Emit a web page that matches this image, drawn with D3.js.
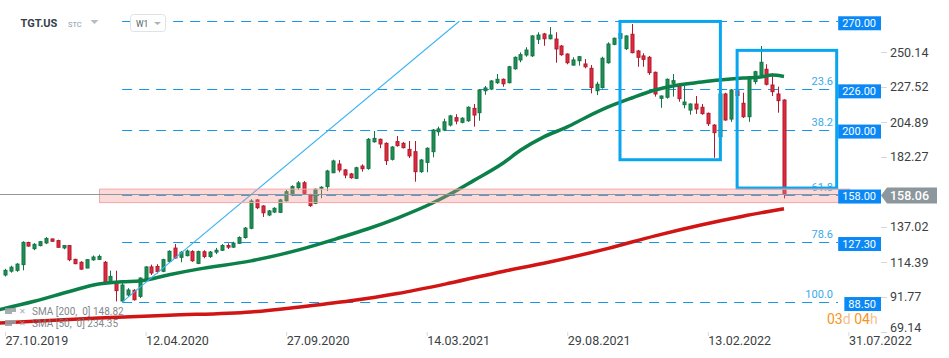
<!DOCTYPE html>
<html><head><meta charset="utf-8">
<script src="https://cdn.jsdelivr.net/npm/d3@7"></script>
<style>
html,body{margin:0;padding:0;background:#fff;}
svg{display:block;font-family:Roboto,"Noto Sans",sans-serif;}
</style></head>
<body>
<svg id="c" width="949" height="358"></svg>
<script>
// ---------------- DATA ----------------
const firstWeek = "2019-10-27";           // weekly candles, one per week from this date
const opens  = [106.0,108.5,109.0,112.7,127.0,123.0,125.0,126.7,129.3,128.2,123.5,125.0,116.1,114.2,110.5,115.8,116.1,114.2,101.5,100.8,89.2,93.1,96.1,92.2,103.6,111.2,111.5,108.4,114.8,123.4,117.4,118.5,121.1,113.5,121.0,118.0,120.8,122.0,125.0,124.0,126.5,130.2,136.2,154.5,150.6,144.8,146.7,146.5,154.0,157.7,162.4,165.6,157.7,152.3,162.1,163.1,172.1,177.7,173.9,171.3,168.5,176.4,174.9,192.1,193.7,191.1,180.8,192.2,191.1,187.2,185.7,172.8,178.8,185.7,198.6,199.7,202.95,207.7,204.7,205.7,213.7,210.9,225.1,226.2,230.3,232.5,230.3,239.3,245.0,248.2,247.7,258.4,261.8,258.7,258.5,254.0,248.8,241.7,244.5,242.4,239.6,225.1,227.1,243.2,255.1,259.0,252.3,261.6,250.8,247.6,246.7,237.0,220.2,220.9,229.9,228.3,216.1,212.6,216.5,214.4,210.5,202.9,195.4,223.0,206.8,225.0,217.0,208.3,231.0,235.3,239.0,228.8,223.0,219.1];
const highs  = [110.0,112.0,113.7,127.8,127.5,126.6,128.0,130.5,129.5,128.8,125.2,125.2,116.5,114.9,116.2,118.6,119.2,115.0,108.8,108.8,102.3,97.5,96.8,104.5,111.7,112.7,113.0,116.5,122.0,126.0,121.4,122.5,122.0,121.8,122.0,121.5,123.5,126.0,126.5,127.5,131.0,137.0,155.0,155.1,151.0,148.0,149.8,155.2,161.0,164.0,166.7,166.7,158.5,162.0,163.4,174.0,180.5,180.3,174.5,172.0,176.0,177.5,194.5,199.1,194.2,191.7,189.3,195.8,192.0,192.6,192.6,181.0,188.5,200.3,201.9,207.0,209.5,209.9,208.0,215.0,216.5,226.2,228.2,232.0,235.9,233.0,241.2,247.3,249.9,253.2,261.0,262.9,262.5,266.3,262.9,254.7,249.3,246.7,247.6,245.6,241.7,230.9,247.1,256.4,259.5,264.0,261.0,268.2,251.5,249.3,247.6,237.5,222.0,233.0,235.9,229.4,228.2,217.0,221.7,216.5,211.0,203.5,224.0,223.8,226.2,228.0,223.8,234.5,238.0,254.0,242.2,236.4,227.7,219.6];
const lows   = [105.0,107.5,108.0,109.0,124.3,122.0,124.5,126.0,127.5,123.8,122.6,114.9,113.0,109.3,110.4,115.2,115.8,100.8,100.8,88.9,88.5,92.0,89.5,91.1,103.0,106.0,107.0,107.8,113.8,116.5,114.2,118.0,114.5,113.0,116.8,117.0,119.5,121.5,122.8,123.5,126.0,129.5,135.5,148.6,143.5,144.0,146.0,146.0,153.5,157.0,160.9,158.0,150.1,151.8,155.6,160.3,171.8,172.4,168.5,168.2,168.0,172.8,174.0,191.5,188.0,177.1,180.0,189.0,187.8,181.6,166.3,172.0,172.4,182.1,196.0,199.0,202.0,203.4,204.0,205.0,201.9,205.7,222.5,225.5,229.5,227.7,229.8,238.7,243.5,247.1,246.9,255.3,254.2,258.3,243.2,247.7,242.2,241.3,241.3,239.6,223.4,222.3,226.5,242.6,254.5,257.0,251.4,249.3,240.6,240.6,235.3,221.3,214.1,220.0,221.3,218.0,213.7,209.6,210.1,209.6,202.3,181.8,195.0,205.7,205.0,220.0,207.5,205.0,229.3,234.8,228.5,221.7,210.9,155.5];
const closes = [109.0,111.0,113.0,127.1,124.7,125.8,127.5,129.6,127.8,123.9,125.0,115.9,113.3,109.8,115.9,117.6,118.0,101.5,105.1,95.9,99.5,96.3,90.0,104.0,111.2,107.3,108.3,115.9,121.3,117.0,120.7,121.5,115.2,121.1,118.0,120.8,122.0,125.0,124.0,126.5,130.2,136.3,153.8,149.5,146.2,147.4,149.1,154.5,159.8,163.1,165.5,158.8,150.8,161.4,162.7,173.2,179.7,173.9,170.6,168.9,175.3,174.7,193.7,194.3,190.7,179.9,188.7,189.6,188.3,183.0,172.8,180.3,187.9,199.7,200.4,205.0,208.8,205.5,207.3,214.4,209.4,225.6,226.9,231.4,232.5,229.6,240.6,246.7,248.4,251.4,260.5,261.1,258.7,261.1,252.1,248.4,243.2,245.0,247.1,240.6,227.1,229.3,246.1,255.3,259.0,262.0,260.5,249.7,246.7,245.4,236.8,223.0,221.7,232.5,231.6,220.0,217.8,216.5,213.3,210.3,203.8,198.0,223.0,206.2,225.6,222.0,208.3,233.8,237.4,243.5,229.3,224.5,218.7,158.06];

// SMA 50 (green)
const sma50Dates  = ["2019-10-20","2019-12-01","2020-01-12","2020-02-16","2020-03-15","2020-04-05","2020-05-10","2020-06-14","2020-08-16","2020-10-11","2020-11-29","2021-01-03","2021-02-07","2021-03-21","2021-04-11","2021-05-09","2021-06-13","2021-07-04","2021-08-01","2021-08-29","2021-09-19","2021-10-17","2021-11-14","2021-12-12","2022-01-02","2022-02-06","2022-02-27","2022-03-27","2022-04-17","2022-05-01","2022-05-15"];
const sma50Values = [83.6,89.0,95.3,100.2,101.6,102.1,106.2,109.8,115.1,122.1,129.9,135.9,142.8,152.5,158.3,167.0,178.2,186.6,195.3,201.7,207.5,214.6,220.4,225.6,228.2,230.7,232.0,233.3,234.0,235.2,234.35];
// SMA 200 (red)
const sma200Dates  = ["2019-10-20","2020-02-16","2020-05-10","2020-08-16","2020-10-11","2020-12-13","2021-02-07","2021-04-11","2021-06-13","2021-08-01","2021-10-17","2021-12-12","2022-02-06","2022-03-27","2022-05-15"];
const sma200Values = [75.0,78.2,80.0,82.1,85.2,89.3,94.0,100.8,108.3,113.6,123.2,131.3,138.5,144.0,148.82];

const priceTicks = [250.14,227.52,204.89,182.27,137.02,114.39,91.77,69.14];
const dateTicks  = ["2019-10-27","2020-04-12","2020-09-27","2021-03-14","2021-08-29","2022-02-13","2022-07-31"];

const levelPrices = [270, 226, 200, 158, 127.3, 88.5];
const levelLabels = ["270.00","226.00","200.00","158.00","127.30","88.50"];
const fibLabels   = ["", "23.6","38.2","61.8","78.6","100.0"];
const fibStart = "2020-03-15";
const lastPrice = 158.06;
const trendDates  = ["2020-03-15","2021-04-22"];
const trendPrices = [88.5, 270];
const zoneTop = 161.5, zoneBottom = 152.8;
const boxes = [
  {from:"2021-10-31", to:"2022-02-28", top:269.9, bottom:180.5},
  {from:"2022-03-20", to:"2022-07-17", top:251.2, bottom:162.2}
];
const legend = [
  {name:"SMA [200,  0]", value:"148.82"},
  {name:"SMA [50,  0]",  value:"234.35"}
];

// ---------------- SCALES ----------------
const parse = d3.utcParse("%Y-%m-%d");
const svg = d3.select("#c");
const plotRight = 881, plotBottom = 332;

const x = d3.scaleUtc().domain([parse("2019-10-27"), parse("2022-07-31")]).range([5, 848.4]);
const y = d3.scaleLinear().domain([69.14, 250.14]).range([332, 52]);

const candles = opens.map((o,i)=>({
  date: d3.utcDay.offset(parse(firstWeek), i*7),
  o, h:highs[i], l:lows[i], c:closes[i]
}));

const defs = svg.append("defs");
defs.append("clipPath").attr("id","plot").append("rect").attr("x",0).attr("y",0).attr("width",plotRight).attr("height",plotBottom);

const plot = svg.append("g").attr("clip-path","url(#plot)");

// level dashed lines
const blue = "#1798e6";
const lvlX0 = x(parse(fibStart)), lvlX1 = 838;
plot.selectAll("line.lvl").data(levelPrices).join("line")
  .attr("x1", lvlX0).attr("x2", lvlX1)
  .attr("y1", d=>Math.round(y(d))+0.5).attr("y2", d=>Math.round(y(d))+0.5)
  .attr("stroke", blue).attr("stroke-width",1.2).attr("stroke-dasharray","10,7");

// fib text labels
plot.selectAll("text.fib").data(levelPrices.map((p,i)=>({p, t:fibLabels[i]})).filter(d=>d.t)).join("text")
  .attr("x", 833).attr("y", d=>y(d.p)-4).attr("text-anchor","end")
  .attr("font-size",11).attr("fill","#3aa9ea").text(d=>d.t);

// candles
const bw = 3;
const cg = plot.append("g");
candles.forEach(d=>{
  const up = d.c >= d.o;
  const cx = Math.round(x(d.date)) + 0.5;
  const fill = up ? "#1f8f55" : "#e22a3e";
  const stroke = up ? "#137445" : "#b01a2d";
  cg.append("line").attr("x1",cx).attr("x2",cx).attr("y1",y(d.h)).attr("y2",y(d.l))
    .attr("stroke",stroke).attr("stroke-width",1);
  const top = y(Math.max(d.o,d.c)), bot = y(Math.min(d.o,d.c));
  cg.append("rect").attr("x",cx-bw/2).attr("y",top).attr("width",bw).attr("height",Math.max(1,bot-top))
    .attr("fill",fill).attr("stroke",stroke).attr("stroke-width",1);
});

// SMAs
const line = d3.line().x(d=>x(d[0])).y(d=>y(d[1])).curve(d3.curveMonotoneX);
plot.append("path").datum(sma200Dates.map((d,i)=>[parse(d), sma200Values[i]]))
  .attr("d", line).attr("fill","none").attr("stroke","#d11414").attr("stroke-width",3.5);
plot.append("path").datum(sma50Dates.map((d,i)=>[parse(d), sma50Values[i]]))
  .attr("d", line).attr("fill","none").attr("stroke","#0b8049").attr("stroke-width",3.5);

// trendline
plot.append("line")
  .attr("x1", x(parse(trendDates[0]))).attr("y1", y(trendPrices[0]))
  .attr("x2", x(parse(trendDates[1]))).attr("y2", y(trendPrices[1]))
  .attr("stroke","#3fb4f2").attr("stroke-width",1.1);

// boxes
plot.selectAll("rect.box").data(boxes).join("rect")
  .attr("x", d=>x(parse(d.from))).attr("y", d=>y(d.top))
  .attr("width", d=>x(parse(d.to))-x(parse(d.from)))
  .attr("height", d=>y(d.bottom)-y(d.top))
  .attr("fill","none").attr("stroke","#08a6ee").attr("stroke-width",3);

// pink zone
plot.append("rect")
  .attr("x", 99.5).attr("y", y(zoneTop)).attr("width", 849.5-99.5).attr("height", y(zoneBottom)-y(zoneTop))
  .attr("fill","rgba(246,140,140,0.32)").attr("stroke","#f3a8a8").attr("stroke-width",1);

// last price line
svg.append("line").attr("x1",0).attr("x2",plotRight).attr("y1",Math.round(y(lastPrice))+0.5).attr("y2",Math.round(y(lastPrice))+0.5)
  .attr("stroke","#8f969c").attr("stroke-width",1);

// ---------------- AXES ----------------
const yAxis = d3.axisRight(y).tickValues(priceTicks).tickSize(6).tickPadding(3).tickFormat(d3.format(".2f"));
const ya = svg.append("g").attr("transform",`translate(${plotRight},0)`).call(yAxis);
ya.select(".domain").remove();
ya.selectAll(".tick line").attr("stroke","#d6d9dc");
ya.selectAll(".tick text").attr("font-size",12.5).attr("fill","#3b3f44").attr("font-family","Roboto");
ya.selectAll(".tick").filter(d=>d===69.14).select("text").attr("dy","-0.05em");

const xAxis = d3.axisBottom(x).tickValues(dateTicks.map(parse)).tickSize(4).tickFormat(d3.utcFormat("%d.%m.%Y"));
const xa = svg.append("g").attr("transform",`translate(0,${plotBottom})`).call(xAxis);
xa.select(".domain").remove();
xa.selectAll(".tick line").attr("stroke","#d6d9dc");
xa.selectAll(".tick text").attr("font-size",12.5).attr("fill","#3b3f44").attr("text-anchor","start")
  .attr("x",0).attr("y",13).attr("dy",0).attr("font-family","Roboto");

// orange countdown
const cd = svg.append("text").attr("x",827).attr("y",324).attr("font-size",14).attr("font-family","Roboto");
cd.append("tspan").attr("fill","#f7941d").text("03");
cd.append("tspan").attr("fill","#f6c28e").text("d ");
cd.append("tspan").attr("fill","#f7941d").text("04");
cd.append("tspan").attr("fill","#f6c28e").text("h");

// level price boxes
levelPrices.forEach((p,i)=>{
  const g = svg.append("g");
  const t = g.append("text").attr("y", y(p)+5.5).attr("font-size",11).attr("fill","#fff").attr("font-family","Roboto").text(levelLabels[i]);
  const tw = t.node().getComputedTextLength();
  const bwid = tw + 9;
  g.insert("rect","text").attr("x", plotRight-bwid).attr("y", y(p)-5).attr("width", bwid).attr("height", 14).attr("fill","#0a88f5");
  t.attr("x", plotRight-bwid+4);
});

// current price tag
const cpY = y(lastPrice)+1;
svg.append("path")
  .attr("d", `M${plotRight},${cpY} L${plotRight+6},${cpY-8} L937,${cpY-8} L937,${cpY+8} L${plotRight+6},${cpY+8} Z`)
  .attr("fill","#8c969d");
svg.append("text").attr("x",890).attr("y",cpY+4.5).attr("font-size",12.5).attr("fill","#fff").attr("font-family","Roboto").attr("font-weight",500).text(d3.format(".2f")(lastPrice));

// header
svg.append("text").attr("x",20.5).attr("y",27).attr("font-size",11).attr("font-weight",700).attr("fill","#36404a").text("TGT.US");
svg.append("text").attr("x",68).attr("y",27).attr("font-size",7.5).attr("fill","#8a9cab").text("STC");
svg.append("path").attr("d","M90.5,20 L98.5,20 L94.5,24 Z").attr("fill","#b5bcc2");
svg.append("rect").attr("x",130.5).attr("y",14.5).attr("width",35).attr("height",17).attr("rx",3)
  .attr("fill","#fff").attr("stroke","#dfe3e7");
svg.append("text").attr("x",136).attr("y",27).attr("font-size",8.5).attr("fill","#555c63").text("W1");
svg.append("path").attr("d","M154,22 L161,22 L157.5,25 Z").attr("fill","#aab1b8");

// legend
legend.forEach((d,i)=>{
  const yy = 315 + i*12;
  const g = svg.append("g").attr("opacity",0.85);
  g.append("rect").attr("x",5).attr("y",yy-7).attr("width",11).attr("height",4).attr("fill","#9a9fa4");
  g.append("rect").attr("x",5).attr("y",yy-3).attr("width",7).attr("height",2).attr("fill","#9a9fa4");
  g.append("text").attr("x",19).attr("y",yy-1).attr("font-size",7.5).attr("fill","#9a9fa4").text("✕");
  g.append("text").attr("x",32).attr("y",yy).attr("font-size",10).attr("fill","#6e7377")
    .attr("xml:space","preserve").text(d.name+" "+d.value);
});
</script>
</body></html>
